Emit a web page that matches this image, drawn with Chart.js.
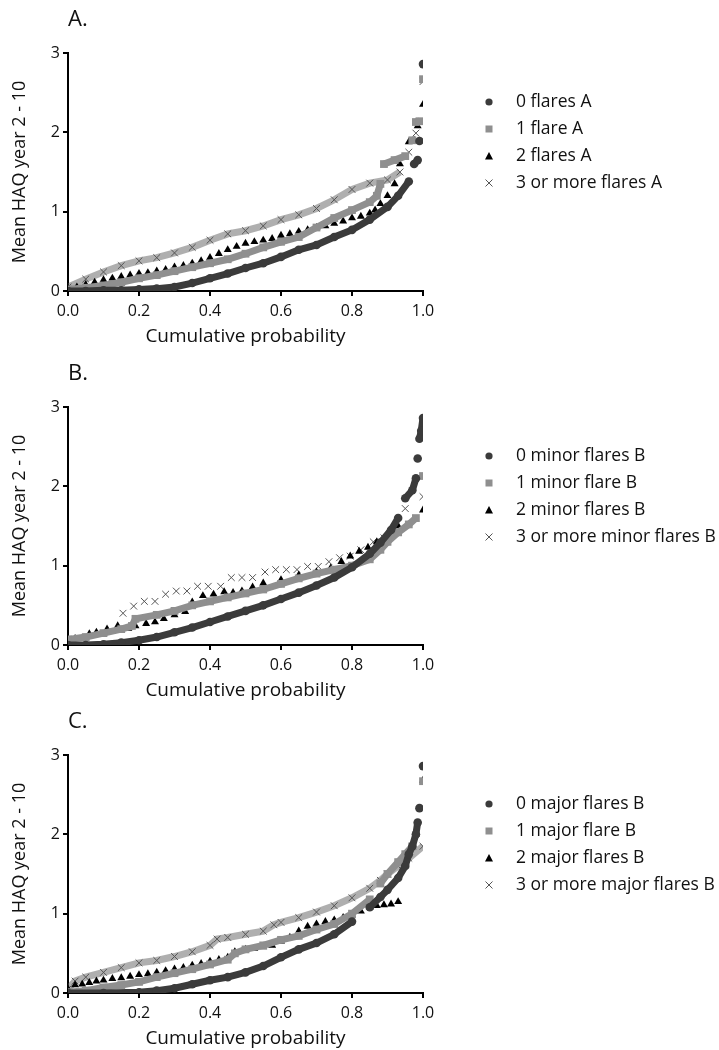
<!DOCTYPE html>
<html>
<head>
<meta charset="utf-8">
<script src="https://cdn.jsdelivr.net/npm/chart.js@4.4.1/dist/chart.umd.min.js"></script>
<style>
  html, body { margin: 0; padding: 0; background: #fff; }
  canvas.panel { position: absolute; left: 0; }
</style>
</head>
<body>
<canvas id="chartA" class="panel" width="719" height="348" style="top:0px"></canvas>
<canvas id="chartB" class="panel" width="719" height="348" style="top:354px"></canvas>
<canvas id="chartC" class="panel" width="719" height="348" style="top:702px"></canvas>
<script>
const FONT = "'Open Sans', sans-serif";

// [cumulative probability, mean HAQ]
const flaresA0 = [[0,0],[0.05,0],[0.1,0.01],[0.15,0.01],[0.2,0.02],[0.25,0.03],[0.3,0.05],[0.35,0.1],[0.4,0.16],[0.45,0.22],[0.5,0.29],[0.55,0.35],[0.6,0.43],[0.65,0.52],[0.7,0.58],[0.75,0.68],[0.8,0.77],[0.85,0.9],[0.9,1.06],[0.93,1.2],[0.96,1.38],[0.975,1.6],[0.985,1.65],[0.99,1.89],[1,2.86]];
const flaresA1 = [[0,0.02],[0.05,0.04],[0.1,0.07],[0.15,0.11],[0.2,0.16],[0.25,0.2],[0.3,0.25],[0.35,0.3],[0.4,0.35],[0.45,0.4],[0.5,0.47],[0.55,0.55],[0.6,0.62],[0.65,0.68],[0.7,0.8],[0.75,0.92],[0.8,1.02],[0.85,1.12],[0.87,1.2],[0.88,1.35],[0.89,1.6],[0.92,1.65],[0.95,1.7],[0.97,1.9],[0.98,2.13],[0.99,2.14],[1,2.67]];
const flaresA2 = [[0,0.03],[0.025,0.05],[0.05,0.08],[0.075,0.11],[0.1,0.14],[0.125,0.16],[0.15,0.18],[0.175,0.2],[0.2,0.22],[0.225,0.23],[0.25,0.25],[0.275,0.27],[0.3,0.3],[0.325,0.32],[0.35,0.35],[0.375,0.38],[0.4,0.42],[0.425,0.47],[0.45,0.52],[0.475,0.56],[0.5,0.6],[0.525,0.62],[0.55,0.64],[0.575,0.66],[0.6,0.7],[0.625,0.72],[0.65,0.75],[0.675,0.77],[0.7,0.8],[0.725,0.82],[0.75,0.85],[0.775,0.88],[0.8,0.92],[0.825,0.94],[0.85,0.98],[0.865,1.02],[0.88,1.1],[0.9,1.2],[0.92,1.35],[0.935,1.6],[0.96,1.88],[0.975,1.9],[0.985,2.08],[1,2.35]];
const flaresA3 = [[0,0.05],[0.05,0.15],[0.1,0.24],[0.15,0.32],[0.2,0.38],[0.25,0.42],[0.3,0.48],[0.35,0.55],[0.4,0.64],[0.45,0.72],[0.5,0.76],[0.55,0.82],[0.6,0.9],[0.65,0.96],[0.7,1.04],[0.75,1.15],[0.8,1.28],[0.85,1.36],[0.9,1.4],[0.935,1.5],[0.96,1.75],[0.98,1.99],[1,2.64]];

const minorB0 = [[0,0],[0.05,0],[0.1,0.01],[0.15,0.03],[0.2,0.06],[0.25,0.1],[0.3,0.16],[0.35,0.22],[0.4,0.29],[0.45,0.36],[0.5,0.43],[0.55,0.5],[0.6,0.58],[0.65,0.66],[0.7,0.75],[0.75,0.85],[0.8,0.98],[0.85,1.15],[0.88,1.29],[0.91,1.45],[0.93,1.6],[0.95,1.85],[0.97,1.95],[0.98,2.1],[0.985,2.35],[0.99,2.6],[0.995,2.7],[1,2.86]];
const minorB1 = [[0,0.07],[0.05,0.1],[0.1,0.15],[0.15,0.2],[0.18,0.24],[0.19,0.33],[0.25,0.38],[0.3,0.43],[0.35,0.5],[0.4,0.55],[0.45,0.6],[0.5,0.65],[0.55,0.7],[0.6,0.77],[0.65,0.84],[0.7,0.9],[0.75,0.95],[0.8,1.0],[0.85,1.08],[0.88,1.2],[0.9,1.3],[0.93,1.42],[0.96,1.52],[0.98,1.6],[1,2.13]];
const minorB2 = [[0.02,0.08],[0.06,0.14],[0.08,0.16],[0.11,0.2],[0.14,0.24],[0.17,0.21],[0.19,0.24],[0.22,0.27],[0.245,0.29],[0.27,0.33],[0.3,0.38],[0.33,0.42],[0.35,0.54],[0.38,0.62],[0.41,0.64],[0.44,0.67],[0.465,0.66],[0.49,0.68],[0.52,0.73],[0.55,0.78],[0.6,0.82],[0.65,0.88],[0.7,0.92],[0.74,0.97],[0.77,1.05],[0.795,1.12],[0.82,1.18],[0.845,1.23],[0.87,1.3],[0.9,1.4],[0.93,1.5],[1,1.7]];
const minorB3 = [[0.155,0.4],[0.185,0.49],[0.215,0.55],[0.245,0.55],[0.275,0.64],[0.305,0.68],[0.335,0.68],[0.365,0.74],[0.395,0.74],[0.43,0.74],[0.46,0.85],[0.49,0.85],[0.52,0.85],[0.555,0.92],[0.585,0.95],[0.615,0.95],[0.645,0.95],[0.675,0.99],[0.705,0.99],[0.735,1.05],[0.765,1.1],[0.795,1.12],[0.825,1.2],[0.86,1.3],[0.89,1.35],[0.92,1.45],[0.95,1.72],[1,1.87]];

const majorC0 = [[0,0],[0.1,0],[0.2,0.01],[0.25,0.03],[0.3,0.06],[0.35,0.11],[0.4,0.16],[0.45,0.2],[0.5,0.26],[0.55,0.34],[0.6,0.45],[0.65,0.55],[0.7,0.63],[0.75,0.74],[0.8,0.9],[0.85,1.08],[0.88,1.21],[0.9,1.3],[0.93,1.45],[0.95,1.6],[0.96,1.75],[0.97,1.85],[0.98,2.0],[0.985,2.15],[0.99,2.33],[1,2.86]];
const majorC1 = [[0,0.01],[0.05,0.03],[0.1,0.07],[0.15,0.1],[0.2,0.14],[0.25,0.2],[0.3,0.25],[0.35,0.3],[0.4,0.36],[0.45,0.42],[0.47,0.5],[0.5,0.55],[0.55,0.6],[0.6,0.67],[0.65,0.72],[0.7,0.8],[0.75,0.87],[0.8,1.0],[0.85,1.18],[0.88,1.38],[0.9,1.5],[0.93,1.65],[0.95,1.75],[0.97,1.85],[1,2.67]];
const majorC2 = [[0,0.05],[0.02,0.1],[0.04,0.11],[0.06,0.13],[0.08,0.15],[0.1,0.16],[0.125,0.18],[0.15,0.19],[0.175,0.21],[0.2,0.23],[0.225,0.24],[0.25,0.26],[0.275,0.28],[0.3,0.3],[0.325,0.32],[0.35,0.35],[0.375,0.37],[0.4,0.4],[0.425,0.42],[0.45,0.45],[0.47,0.52],[0.5,0.55],[0.525,0.56],[0.55,0.58],[0.575,0.6],[0.6,0.65],[0.625,0.7],[0.65,0.78],[0.675,0.84],[0.7,0.87],[0.725,0.9],[0.75,0.92],[0.775,0.95],[0.8,0.98],[0.825,1.03],[0.85,1.08],[0.87,1.1],[0.89,1.11],[0.91,1.12],[0.93,1.15],[0.95,1.6],[0.97,1.83],[0.98,2.0],[1,2.68]];
const majorC3 = [[0,0.05],[0.02,0.15],[0.05,0.2],[0.1,0.26],[0.15,0.32],[0.2,0.38],[0.25,0.41],[0.3,0.46],[0.35,0.52],[0.4,0.6],[0.42,0.68],[0.45,0.7],[0.5,0.74],[0.55,0.78],[0.58,0.86],[0.6,0.89],[0.65,0.95],[0.7,1.02],[0.75,1.1],[0.8,1.2],[0.85,1.32],[0.88,1.42],[0.9,1.5],[0.93,1.6],[0.96,1.7],[1,1.85]];

const labelsA = ['0 flares A', '1 flare A', '2 flares A', '3 or more flares A'];
const labelsB = ['0 minor flares B', '1 minor flare B', '2 minor flares B', '3 or more minor flares B'];
const labelsC = ['0 major flares B', '1 major flare B', '2 major flares B', '3 or more major flares B'];

const xTicks = [0, 0.2, 0.4, 0.6, 0.8, 1.0];
const yTicks = [0, 1, 2, 3];

// marker look per group (0, 1, 2, 3+ flares)
const markers = [
  { style: 'circle',   radius: 4.3, fill: '#3b3b3b', stroke: '#3b3b3b', border: 0, line: '#3b3b3b' },
  { style: 'rect',     radius: 5.5, fill: '#8f8f8f', stroke: '#8f8f8f', border: 0, line: '#8f8f8f' },
  { style: 'triangle', radius: 4.6, fill: '#000',    stroke: '#000',    border: 0, line: '#000' },
  { style: 'crossRot', radius: 4.8, fill: '#555',    stroke: '#555',    border: 1, line: 'rgba(95,95,95,0.5)' }
];

function legendMarker(ctx, style, x, y, color) {
  ctx.fillStyle = color;
  ctx.strokeStyle = color;
  ctx.lineWidth = 1;
  ctx.beginPath();
  if (style === 'circle') {
    ctx.arc(x, y, 3.6, 0, Math.PI * 2);
    ctx.fill();
  } else if (style === 'rect') {
    ctx.rect(x - 3.5, y - 3.5, 7, 7);
    ctx.fill();
  } else if (style === 'triangle') {
    ctx.moveTo(x, y - 4);
    ctx.lineTo(x + 4, y + 3.5);
    ctx.lineTo(x - 4, y + 3.5);
    ctx.closePath();
    ctx.fill();
  } else {
    ctx.moveTo(x - 3.5, y - 3.5); ctx.lineTo(x + 3.5, y + 3.5);
    ctx.moveTo(x + 3.5, y - 3.5); ctx.lineTo(x - 3.5, y + 3.5);
    ctx.stroke();
  }
}

const sideLegend = {
  id: 'sideLegend',
  afterDraw(chart, args, opts) {
    const { ctx, chartArea } = chart;
    ctx.save();
    ctx.font = opts.size + 'px ' + FONT;
    ctx.textBaseline = 'middle';
    ctx.textAlign = 'left';
    chart.data.datasets.forEach((ds, i) => {
      const y = chartArea.top + opts.top + i * opts.gap;
      legendMarker(ctx, ds.pointStyle, chartArea.right + opts.markerX, y, ds.pointBackgroundColor);
      ctx.fillStyle = '#111';
      ctx.fillText(ds.label, chartArea.right + opts.textX, y);
    });
    ctx.restore();
  }
};

function buildPanel(id, letter, names, series, lineWidths) {
  const datasets = series.map((pts, i) => {
    const m = markers[i];
    return {
      label: names[i],
      data: pts.map(([x, y]) => ({ x, y })),
      pointStyle: m.style,
      pointRadius: m.radius,
      pointHoverRadius: m.radius,
      pointBackgroundColor: m.fill,
      pointBorderColor: m.stroke,
      pointBorderWidth: m.border,
      borderColor: m.line,
      backgroundColor: m.fill,
      showLine: lineWidths[i] > 0,
      borderWidth: lineWidths[i],
      segment: {
        borderColor: c => (c.p1.parsed.y - c.p0.parsed.y > 0.18 ? 'rgba(0,0,0,0)' : undefined)
      }
    };
  });

  return new Chart(document.getElementById(id), {
    type: 'scatter',
    data: { datasets },
    options: {
      responsive: false,
      animation: false,
      devicePixelRatio: 1,
      layout: { padding: { left: 0, right: 296, top: 0, bottom: 0 } },
      plugins: {
        legend: { display: false },
        tooltip: { enabled: false },
        title: {
          display: true, text: letter, align: 'start', fullSize: false,
          color: '#111', font: { family: FONT, size: 22, weight: 'normal' },
          padding: { top: 7, bottom: 19.6 }
        },
        sideLegend: { top: 49, gap: 27, markerX: 66, textX: 93, size: 17.5 }
      },
      scales: {
        x: {
          type: 'linear', min: 0, max: 1,
          afterBuildTicks: s => { s.ticks = xTicks.map(v => ({ value: v })); },
          border: { color: '#000', width: 2 },
          grid: { drawOnChartArea: false, tickLength: 5, color: '#000', lineWidth: 2 },
          ticks: { color: '#111', font: { family: FONT, size: 16 }, padding: 6, maxRotation: 0,
                   callback: v => Number(v).toFixed(1) },
          title: { display: true, text: 'Cumulative probability', color: '#111',
                   font: { family: FONT, size: 19 }, padding: { top: 0, bottom: 0 } },
          afterFit: s => { s.height = 57; }
        },
        y: {
          type: 'linear', min: 0, max: 3,
          afterBuildTicks: s => { s.ticks = yTicks.map(v => ({ value: v })); },
          border: { color: '#000', width: 2 },
          grid: { drawOnChartArea: false, tickLength: 5, color: '#000', lineWidth: 2 },
          ticks: { color: '#111', font: { family: FONT, size: 16 }, padding: 3,
                   callback: v => String(v) },
          title: { display: true, text: 'Mean HAQ year 2 - 10', color: '#111',
                   font: { family: FONT, size: 18 }, padding: { top: 9, bottom: 0 } },
          afterFit: s => { s.width = 68; }
        }
      }
    },
    plugins: [sideLegend]
  });
}

buildPanel('chartA', 'A.', labelsA, [flaresA0, flaresA1, flaresA2, flaresA3], [7, 7, 0, 7]);
buildPanel('chartB', 'B.', labelsB, [minorB0, minorB1, minorB2, minorB3], [7, 7, 0, 0]);
buildPanel('chartC', 'C.', labelsC, [majorC0, majorC1, majorC2, majorC3], [7, 7, 0, 7]);
</script>
</body>
</html>
